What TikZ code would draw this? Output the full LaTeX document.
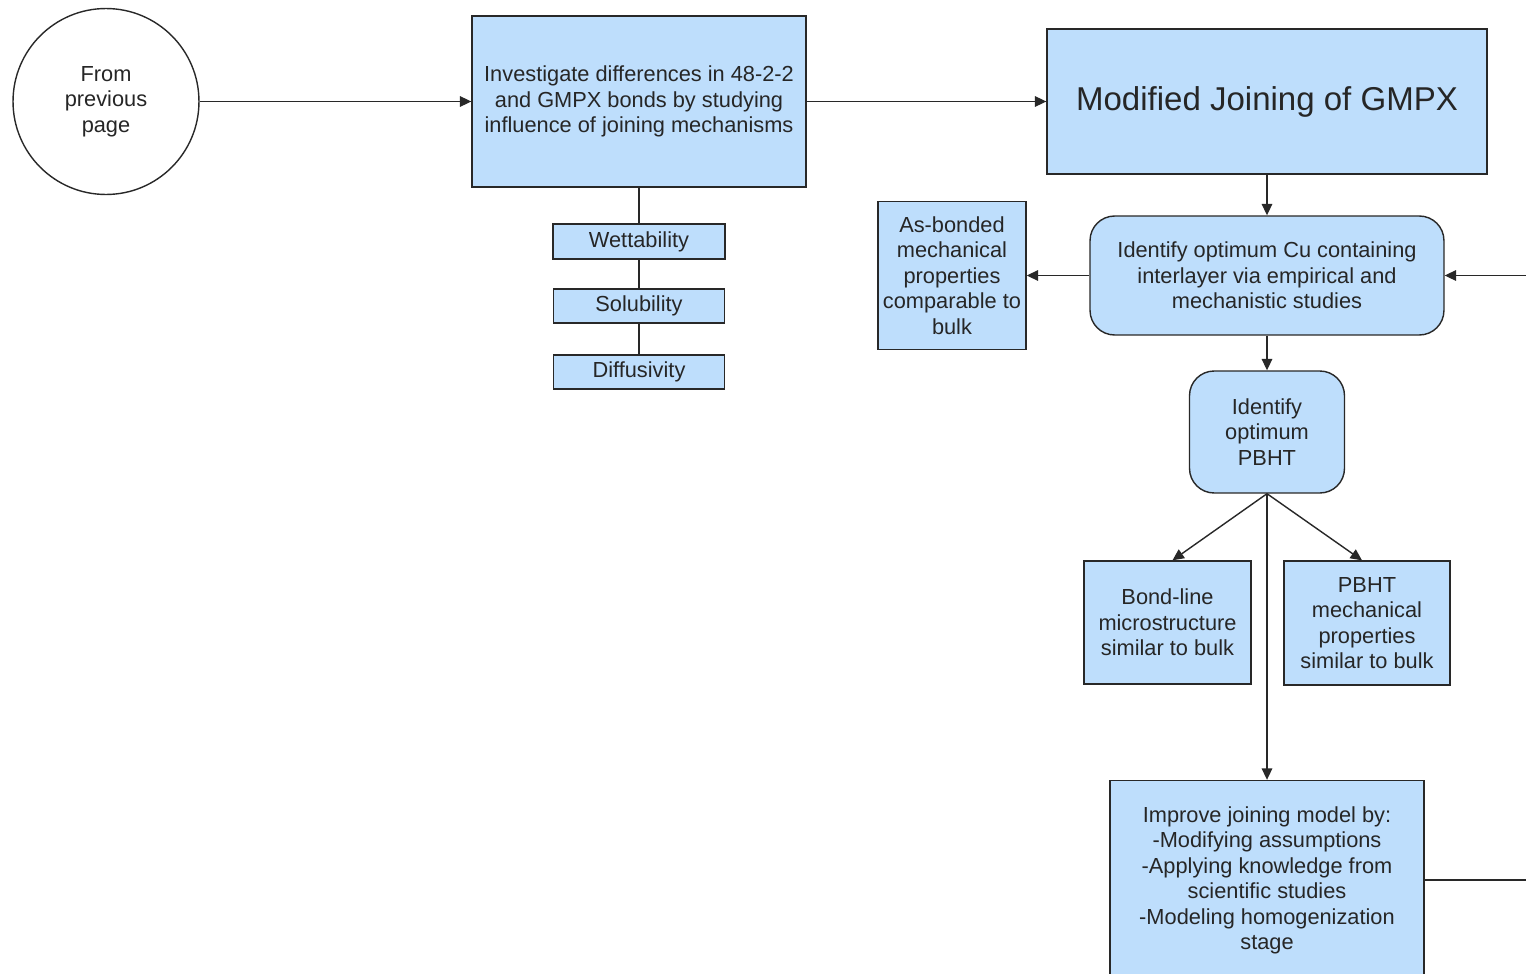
\documentclass[tikz,border=0pt]{standalone}
\usepackage{fontspec}
\setmainfont{Liberation Sans}
\usetikzlibrary{arrows.meta}
\definecolor{boxblue}{RGB}{190,222,252}
\definecolor{edgegray}{RGB}{40,40,40}

\begin{document}
\begin{tikzpicture}[x=0.02cm,y=-0.02cm,line width=0.8pt,draw=edgegray,
    >={Triangle[length=6.5pt,width=6pt]},
    txt/.style={font=\fontsize{12.4}{14.5}\selectfont,align=center,inner sep=0pt,text=black!85},
    blk/.style={txt,draw=edgegray,fill=boxblue,rectangle},
    rnd/.style={blk,rounded corners=14pt},
    pagecirc/.style={txt,draw=edgegray,circle,minimum size=3.72cm}]
                \clip (0,0) rectangle (1526,974);
                \fill[white] (0,0) rectangle (1526,974);

                \node[pagecirc] (prev) at (106,101.5) {From\\previous\\page};
                \node[blk,minimum width=6.68cm,minimum height=3.42cm] (invest) at (639,101.5)
                    {Investigate differences in 48-2-2\\and GMPX bonds by studying\\influence of joining mechanisms};
                \node[blk,minimum width=3.44cm,minimum height=0.7cm] (wett) at (639,241.5) {Wettability};
                \node[blk,minimum width=3.42cm,minimum height=0.68cm] (solub) at (639,306) {Solubility};
                \node[blk,minimum width=3.42cm,minimum height=0.68cm] (diffus) at (639,372) {Diffusivity};

                \node[blk,minimum width=8.8cm,minimum height=2.9cm,font=\fontsize{18.8}{22}\selectfont] (modif) at (1267,101.5)
                    {Modified Joining of GMPX};
                \node[rnd,minimum width=7.08cm,minimum height=2.38cm] (cuint) at (1267,275.5)
                    {Identify optimum Cu containing\\interlayer via empirical and\\mechanistic studies};
                \node[blk,minimum width=2.96cm,minimum height=2.96cm] (asbond) at (952,275.5)
                    {As-bonded\\mechanical\\properties\\comparable to\\bulk};
                \node[rnd,minimum width=3.1cm,minimum height=2.44cm] (pbht) at (1267,432)
                    {Identify\\optimum\\PBHT};
                \node[blk,minimum width=3.34cm,minimum height=2.46cm] (bondline) at (1167.5,622.5)
                    {Bond-line\\microstructure\\similar to bulk};
                \node[blk,minimum width=3.32cm,minimum height=2.48cm] (pbhtmech) at (1367,623)
                    {PBHT\\mechanical\\properties\\similar to bulk};
                \node[blk,minimum width=6.28cm,minimum height=4cm] (improve) at (1267,880.5)
                    {Improve joining model by:\\-Modifying assumptions\\-Applying knowledge from\\scientific studies\\-Modeling homogenization\\stage};

                \coordinate (backin) at (1526,275.5);
                \coordinate (backout) at (1526,880);

                % connectors
                \draw[->] (prev) -- (invest);
                \draw[->] (invest) -- (modif);
                \draw (invest) -- (wett) -- (solub) -- (diffus);
                \draw[->] (modif) -- (cuint);
                \draw[->] (cuint) -- (asbond);
                \draw[->] (backin) -- (cuint.east);
                \draw[->] (cuint) -- (pbht);
                \draw[->] (pbht.south) -- ([xshift=0.1cm]bondline.north);
                \draw[->] (pbht.south) -- ([xshift=-0.1cm]pbhtmech.north);
                \draw[->] (pbht.south) -- (improve.north);
                \draw (improve.east |- backout) -- (backout);
            \end{tikzpicture}
\end{document}
